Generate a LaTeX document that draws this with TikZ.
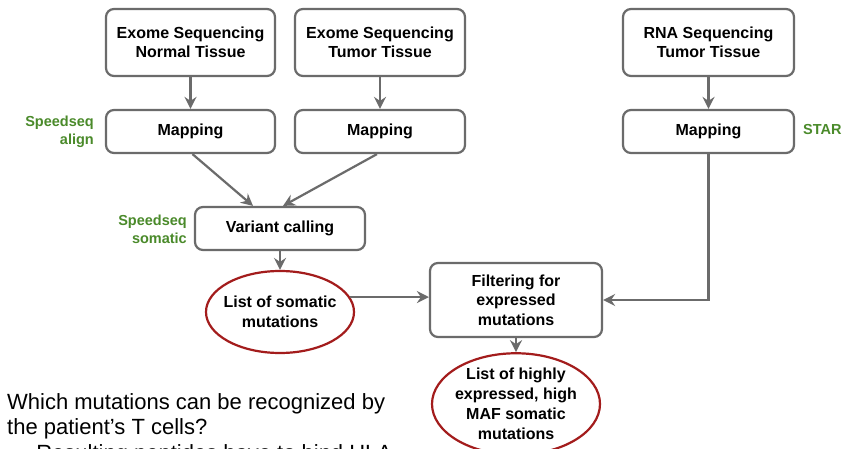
\documentclass[tikz,border=0pt]{standalone}
\usepackage{fontspec}
\setmainfont{Liberation Sans}
\usetikzlibrary{arrows.meta,shapes.geometric}
\definecolor{edgegray}{HTML}{6B6B6B}
\definecolor{toolgreen}{HTML}{4A8A2A}
\definecolor{resultred}{HTML}{A31C1C}
\begin{document}
\begin{tikzpicture}[x=1pt,y=-1pt,
  stepbox/.style={draw=edgegray, line width=2.2pt, rounded corners=8pt, fill=white,
    align=center, inner sep=0pt, font=\fontsize{16}{19.5}\selectfont\bfseries},
  resultoval/.style={ellipse, draw=resultred, line width=2.2pt, fill=white,
    align=center, inner xsep=-10pt, inner ysep=0pt, font=\fontsize{16}{20}\selectfont\bfseries},
  toollabel/.style={text=toolgreen, inner sep=0pt, font=\fontsize{14.5}{18}\selectfont\bfseries},
  flow/.style={draw=edgegray, line width=2.2pt, -{Stealth[length=12pt,width=12pt,inset=4pt]}}
]
\clip (0,0) rectangle (855,449);
\fill[white] (0,0) rectangle (855,449);

% sequencing inputs
\node[stepbox, minimum width=169pt, minimum height=67pt] (seqN) at (190.5,42.5) {Exome Sequencing\\Normal Tissue};
\node[stepbox, minimum width=170pt, minimum height=67pt] (seqT) at (380,42.5) {Exome Sequencing\\Tumor Tissue};
\node[stepbox, minimum width=171pt, minimum height=67pt] (seqR) at (708.5,42.5) {RNA Sequencing\\Tumor Tissue};

% read mapping
\node[stepbox, minimum width=169pt, minimum height=43pt] (map1) at (190.5,131.5) {Mapping};
\node[stepbox, minimum width=170pt, minimum height=43pt] (map2) at (380,131.5) {Mapping};
\node[stepbox, minimum width=171pt, minimum height=43pt] (map3) at (708.5,131.5) {Mapping};

% variant calling and filtering
\node[stepbox, minimum width=170pt, minimum height=43pt] (var) at (280,228.5) {Variant calling};
\node[resultoval, minimum width=148pt, minimum height=82pt] (ell1) at (280,312) {List of somatic\\mutations};
\node[stepbox, minimum width=172pt, minimum height=74pt] (filt) at (516,300) {Filtering for\\expressed\\mutations};
\node[resultoval, minimum width=168pt, minimum height=90pt] (ell2) at (516,404) {List of highly\\expressed, high\\MAF somatic\\mutations};

% tool labels
\node[toollabel, anchor=east, align=right] (lalign) at (94,132) {Speedseq\\align};
\node[toollabel, anchor=east, align=right] (lsomatic) at (187,229.5) {Speedseq\\somatic};
\node[toollabel, anchor=west] (lstar) at (803,130) {STAR};

% question text
\node[anchor=north west, align=left, inner sep=0pt, font=\fontsize{22}{25.5}\selectfont] (question) at (7,393)
  {Which mutations can be recognized by\\the patient’s T cells?\\\hspace{4pt}→\hspace{-3pt} Resulting peptides have to bind HLA};

% connectors
\draw[flow] (seqN) -- (map1);
\draw[flow] (seqT) -- (map2);
\draw[flow] (seqR) -- (map3);
\draw[flow] ([xshift=2pt]map1.south) -- ([xshift=-27pt]var.north);
\draw[flow] ([xshift=-3pt]map2.south) -- ([xshift=3pt]var.north);
\draw[flow] (var) -- (ell1);
\draw[flow] (ell1.12) -- (ell1.12 -| filt.west);
\draw[flow] (map3.south) |- (filt.east);
\draw[flow] (filt) -- (ell2);
\end{tikzpicture}
\end{document}
